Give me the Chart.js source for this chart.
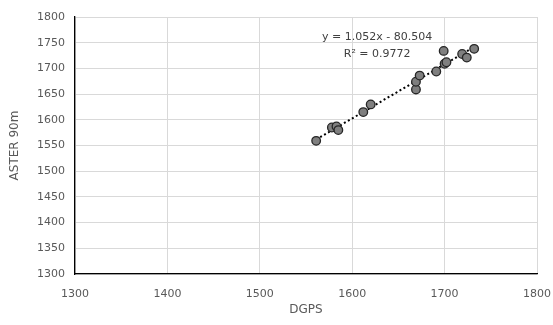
<!DOCTYPE html>
<html>
<head>
<meta charset="utf-8">
<script src="https://cdn.jsdelivr.net/npm/chart.js@4/dist/chart.umd.min.js"></script>
<style>
html,body{margin:0;padding:0;background:#fff;}
#wrap{width:553px;height:325px;position:relative;}
</style>
</head>
<body>
<div id="wrap"><canvas id="c" width="553" height="325"></canvas></div>
<script>
const dgps  = [1561, 1578, 1583, 1585, 1612, 1620, 1669, 1669, 1673, 1691, 1699, 1700, 1702, 1719, 1724, 1732];
const aster = [1559, 1585, 1587, 1580, 1615, 1630, 1659, 1674, 1686, 1694, 1734, 1709, 1712, 1728, 1721, 1738];
const trendX = [1561, 1732];
const trendY = [1561.7, 1741.6];
const eqLines = ["y = 1.052x - 80.504", "R\u00B2 = 0.9772"];
const eqAnchor = {x: 1627, y: 1761};
const axisMin = 1300, axisMax = 1800;
const xStep = 100, yStep = 50;

const FONT = "'DejaVu Sans', sans-serif";
const TXT = '#595959';

const eqPlugin = {
  id: 'eq',
  afterDatasetsDraw(chart) {
    const ctx = chart.ctx;
    const xs = chart.scales.x, ys = chart.scales.y;
    const px = xs.getPixelForValue(eqAnchor.x);
    const py = ys.getPixelForValue(eqAnchor.y);
    ctx.save();
    ctx.font = '11px ' + FONT;
    ctx.fillStyle = '#404040';
    ctx.textAlign = 'center';
    ctx.textBaseline = 'middle';
    ctx.fillText(eqLines[0], px, py);
    ctx.fillText(eqLines[1], px, py + 17.5);
    ctx.restore();
  }
};

new Chart(document.getElementById('c'), {
  type: 'scatter',
  data: {
    datasets: [
      {
        type: 'line',
        data: trendX.map((x, i) => ({x: x, y: trendY[i]})),
        borderColor: '#000',
        borderWidth: 2,
        borderDash: [2, 2.6],
        borderCapStyle: 'butt',
        pointRadius: 0,
        fill: false,
        order: 2
      },
      {
        data: dgps.map((x, i) => ({x: x, y: aster[i]})),
        backgroundColor: '#7f7f7f',
        borderColor: '#262626',
        borderWidth: 1.3,
        pointRadius: 4.3,
        order: 1
      }
    ]
  },
  options: {
    responsive: false,
    animation: false,
    devicePixelRatio: 1,
    layout: {padding: {top: 17, right: 16, left: 8, bottom: 8}},
    plugins: {legend: {display: false}, tooltip: {enabled: false}},
    scales: {
      x: {
        type: 'linear', min: axisMin, max: axisMax,
        ticks: {stepSize: xStep, color: TXT, font: {family: FONT, size: 11}, padding: 14, maxRotation: 0,
                callback: v => String(v)},
        grid: {color: '#d9d9d9', lineWidth: 1, drawTicks: false},
        border: {display: true, color: '#000', width: 1.3},
        title: {display: true, text: 'DGPS', color: TXT, font: {family: FONT, size: 12}, padding: {top: 4, bottom: 0}},
        afterFit(s) { s.height = 43; s.paddingRight = 0; s.paddingLeft = 0; }
      },
      y: {
        type: 'linear', min: axisMin, max: axisMax,
        ticks: {stepSize: yStep, color: TXT, font: {family: FONT, size: 11}, padding: 10,
                callback: v => String(v)},
        grid: {color: '#d9d9d9', lineWidth: 1, drawTicks: false},
        border: {display: true, color: '#000', width: 1.3},
        title: {display: true, text: 'ASTER 90m', color: TXT, font: {family: FONT, size: 12}, padding: {top: 0, bottom: 6}},
        afterFit(s) { s.width = 67; s.paddingTop = 0; s.paddingBottom = 0; }
      }
    }
  },
  plugins: [eqPlugin]
});
</script>
</body>
</html>
